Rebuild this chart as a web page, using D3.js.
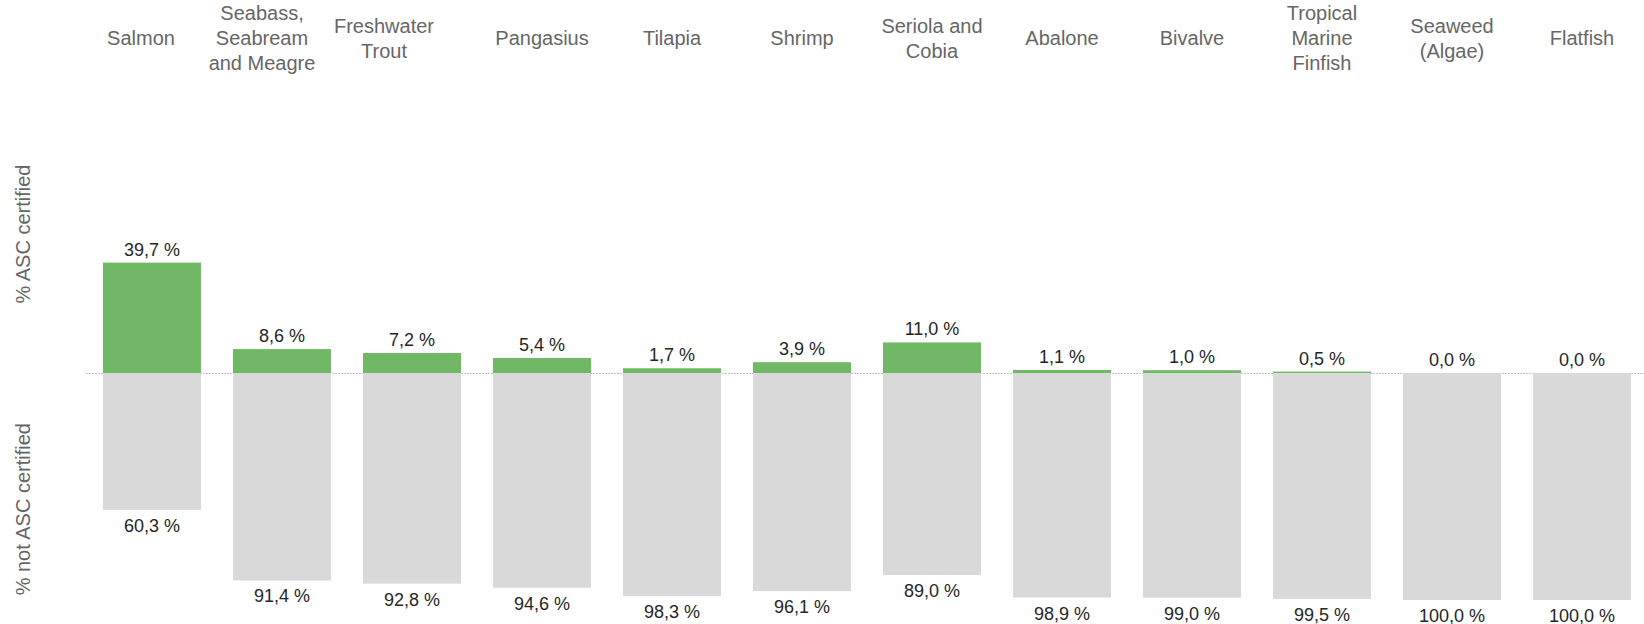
<!DOCTYPE html>
<html>
<head>
<meta charset="utf-8">
<script src="https://cdn.jsdelivr.net/npm/d3@7"></script>
<style>
  body { margin: 0; background: #fff; }
  svg text { font-family: "Liberation Sans", Arial, sans-serif; }
</style>
</head>
<body>
<div id="app"></div>
<script>
const categories = [
  ['Salmon'],
  ['Seabass,', 'Seabream', 'and Meagre'],
  ['Freshwater', 'Trout'],
  ['Pangasius'],
  ['Tilapia'],
  ['Shrimp'],
  ['Seriola and', 'Cobia'],
  ['Abalone'],
  ['Bivalve'],
  ['Tropical', 'Marine', 'Finfish'],
  ['Seaweed', '(Algae)'],
  ['Flatfish']
];
const certified    = [39.7, 8.6, 7.2, 5.4, 1.7, 3.9, 11.0, 1.1, 1.0, 0.5, 0.0, 0.0];
const notCertified = [60.3, 91.4, 92.8, 94.6, 98.3, 96.1, 89.0, 98.9, 99.0, 99.5, 100.0, 100.0];
const axisTitles = ['% ASC certified', '% not ASC certified'];

// small horizontal nudges for the first header labels, as in the original layout
const labelNudge = [-11, -20, -28, 0, 0, 0, 0, 0, 0, 0, 0, 0];

const W = 1644, H = 624;
const base = 373;
const fmt = v => d3.format('.1f')(v).replace('.', ',') + ' %';

const svg = d3.select('#app').append('svg')
  .attr('width', W).attr('height', H);

const idx = d3.range(categories.length);
const x = d3.scaleBand().domain(idx).range([87, 1647])
  .paddingInner(32 / 130).paddingOuter(16 / 130);
const yUp = d3.scaleLinear().domain([0, 100]).range([base, base - 278]);
const yDown = d3.scaleLinear().domain([0, 100]).range([base, base + 227]);

// zero line
svg.append('line')
  .attr('x1', 86).attr('x2', W)
  .attr('y1', base + 0.5).attr('y2', base + 0.5)
  .attr('stroke', '#c4c4c4').attr('stroke-dasharray', '2,1');

// header labels
const head = svg.append('g').selectAll('text')
  .data(idx).enter().append('text')
  .attr('text-anchor', 'middle')
  .attr('font-size', 20)
  .attr('fill', '#666');
head.each(function (i) {
  const lines = categories[i];
  d3.select(this).selectAll('tspan').data(lines).enter().append('tspan')
    .attr('x', x(i) + x.bandwidth() / 2 + labelNudge[i])
    .attr('y', (d, k) => 45 + (k - (lines.length - 1) / 2) * 25)
    .text(d => d);
});

// certified bars
svg.append('g').selectAll('rect')
  .data(idx).enter().append('rect')
  .attr('x', i => x(i))
  .attr('y', i => yUp(certified[i]))
  .attr('width', x.bandwidth())
  .attr('height', i => yUp(0) - yUp(certified[i]))
  .attr('fill', '#71b866');

// not certified bars
svg.append('g').selectAll('rect')
  .data(idx).enter().append('rect')
  .attr('x', i => x(i))
  .attr('y', base)
  .attr('width', x.bandwidth())
  .attr('height', i => yDown(notCertified[i]) - base)
  .attr('fill', '#d9d9d9');

// value labels
svg.append('g').selectAll('text')
  .data(idx).enter().append('text')
  .attr('x', i => x(i) + x.bandwidth() / 2)
  .attr('y', i => yUp(certified[i]) - 7)
  .attr('text-anchor', 'middle')
  .attr('font-size', 18)
  .attr('fill', '#262626')
  .text(i => fmt(certified[i]));

svg.append('g').selectAll('text')
  .data(idx).enter().append('text')
  .attr('x', i => x(i) + x.bandwidth() / 2)
  .attr('y', i => yDown(notCertified[i]) + 22)
  .attr('text-anchor', 'middle')
  .attr('font-size', 18)
  .attr('fill', '#262626')
  .text(i => fmt(notCertified[i]));

// side titles
svg.append('text')
  .attr('transform', `translate(30,${yUp(50)}) rotate(-90)`)
  .attr('text-anchor', 'middle')
  .attr('font-size', 20)
  .attr('fill', '#666')
  .text(axisTitles[0]);

svg.append('text')
  .attr('transform', `translate(30,${yDown(60)}) rotate(-90)`)
  .attr('text-anchor', 'middle')
  .attr('font-size', 20)
  .attr('fill', '#666')
  .text(axisTitles[1]);
</script>
</body>
</html>
